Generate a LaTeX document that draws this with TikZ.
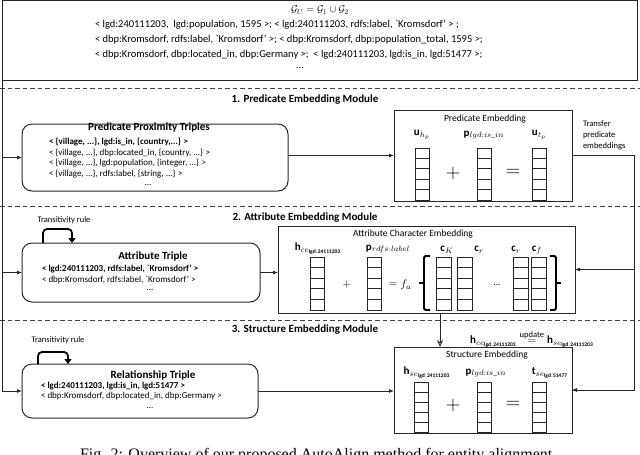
\documentclass[tikz,border=0pt]{standalone}
\usepackage{fix-cm}
\usepackage{amsmath}
\usepackage{fontspec}
\setmainfont{Carlito}
\newfontfamily\capfont{Liberation Serif}
\usetikzlibrary{arrows.meta,calc}
\newcommand\vcol[4]{\foreach \i in {0,...,4}{\draw[cellst] (#1,#2+\i*#4) rectangle ++(#3,#4);}}
\begin{document}
\begin{tikzpicture}[x=1pt,y=-1pt,
  every node/.style={inner sep=0pt, outer sep=0pt},
  ln/.style={line width=0.8pt, draw=black!85},
  arr/.style={ln, -{Latex[length=5pt,width=4pt]}},
  dline/.style={line width=0.8pt, draw=black!75, dash pattern=on 4.5pt off 3pt},
  tribox/.style={draw=black!85, line width=1pt, rounded corners=10pt},
  embbox/.style={draw=black!85, line width=1pt},
  cellst/.style={draw=black!85, line width=0.8pt},
  hdr/.style={font=\fontsize{11}{12}\selectfont\bfseries},
  ttl/.style={font=\fontsize{11}{12}\selectfont\bfseries},
  trip/.style={font=\fontsize{9}{10.6}\selectfont, anchor=north west, align=left},
  etitle/.style={font=\fontsize{9.5}{11}\selectfont},
  lbl/.style={font=\fontsize{11}{12}\selectfont},
  bigop/.style={font=\fontsize{20}{20}\selectfont},
  loopar/.style={line width=1.8pt, rounded corners=4pt, -{Triangle[length=5pt,width=7pt]}},
  smalltxt/.style={font=\fontsize{8.5}{11}\selectfont}
]
\useasboundingbox (0,0) rectangle (640,455);

% ---------- top box ----------
\node[ln, draw, minimum width=635pt, minimum height=80pt, anchor=north west] (top) at (2,0.5) {};
\node[font=\fontsize{10}{12}\selectfont] (gu) at (320,10) {$\mathcal{G}_U = \mathcal{G}_1 \cup \mathcal{G}_2$};
\node[anchor=north west, align=left, font=\fontsize{10.5}{15}\selectfont] (facts) at (95,20)
 {< lgd:240111203,\ \ lgd:population, 1595 >; < lgd:240111203, rdfs:label, \textasciigrave Kromsdorf’ > ;\\
  < dbp:Kromsdorf, rdfs:label, \textasciigrave Kromsdorf’ >; < dbp:Kromsdorf, dbp:population\_total, 1595 >;\\
  < dbp:Kromsdorf, dbp:located\_in, dbp:Germany >;\ \ < lgd:240111203, lgd:is\_in, lgd:51477 >;};
\node[font=\fontsize{10}{12}\selectfont] (fdots) at (300,68) {...};

% ---------- dashed separators ----------
\draw[dline] (0,88) -- (640,88);
\draw[dline] (0,206) -- (640,206);
\draw[dline] (0,320) -- (640,320);

% ---------- headers ----------
\node[hdr] (h1) at (305,100) {1. Predicate Embedding Module};
\node[hdr] (h2) at (305,218) {2. Attribute Embedding Module};
\node[hdr] (h3) at (305,330) {3. Structure Embedding Module};

% ---------- module 1 ----------
\node[tribox, minimum width=266pt, minimum height=67pt] (pp) at (155,157.5) {};
\node[ttl] (ppt) at (149,128) {Predicate Proximity Triples};
\node[trip] (ppl) at (49,138)
 {\textbf{< \{village, ...\}, lgd:is\_in, \{country,...\} >}\\
  < \{village, ...\}, dbp:located\_in, \{country, ...\} >\\
  < \{village, ...\}, lgd:population, \{integer, ...\} >\\
  < \{village, ...\}, rdfs:label, \{string, ...\} >};
\node[font=\fontsize{9}{10}\selectfont] (ppd) at (148,185) {...};

\node[embbox, minimum width=178pt, minimum height=91pt] (pe) at (483,155.5) {};
\node[etitle] (pet) at (485,119) {Predicate Embedding};
\node[lbl] (pel1) at (422,135) {$\mathbf{u}_{h_p}$};
\node[lbl] (pel2) at (484,135) {$\mathbf{p}_{lgd{:}is\_in}$};
\node[lbl] (pel3) at (539,135) {$\mathbf{u}_{t_p}$};
\vcol{415}{148}{14}{10.4}
\vcol{477}{148}{14}{10.4}
\vcol{532}{148}{14}{10.4}
\node[bigop] (pep) at (453,173) {$+$};
\node[bigop] (peq) at (513,173) {$=$};
\node[smalltxt, anchor=north west, align=left] (tr) at (583,121) {Transfer\\predicate\\embeddings};

% ---------- module 2 ----------
\node[tribox, minimum width=238pt, minimum height=59pt] (at) at (141,272.5) {};
\node[ttl] (att) at (153,257) {Attribute Triple};
\node[trip] (atl) at (42,265)
 {\textbf{< lgd:240111203, rdfs:label, \textasciigrave Kromsdorf’ >}\\
  < dbp:Kromsdorf, rdfs:label, \textasciigrave Kromsdorf’ >};
\node[font=\fontsize{9}{10}\selectfont] (atd) at (150,290) {...};
\node[smalltxt] (tr1) at (64,220) {Transitivity rule};

\node[embbox, minimum width=297pt, minimum height=87pt] (ace) at (426.5,269.5) {};
\node[etitle] (acet) at (413,234) {Attribute Character Embedding};
\node[lbl] (acel1) at (318,249) {$\mathbf{h}_{ce_{\mathbf{lgd}{:}\mathbf{24111203}}}$};
\node[lbl] (acel2) at (388,249) {$\mathbf{p}_{rdfs{:}label}$};
\node[lbl] (acel3) at (447,250) {$\mathbf{c}_K$};
\node[lbl] (acel4) at (479,250) {$\mathbf{c}_r$};
\node[lbl] (acel5) at (516,250) {$\mathbf{c}_r$};
\node[lbl] (acel6) at (537,250) {$\mathbf{c}_f$};
\vcol{310}{257}{14}{10.6}
\vcol{367}{257}{14}{10.6}
\vcol{436}{257}{15}{10.6}
\vcol{457}{257}{15}{10.6}
\vcol{513}{257}{15}{10.6}
\vcol{531}{257}{15}{10.6}
\node[font=\fontsize{11}{12}\selectfont] (acep) at (347,285) {$+$};
\node[font=\fontsize{11}{12}\selectfont] (aceq) at (393,284) {$=$};
\node[font=\fontsize{11}{12}\selectfont] (acef) at (406,285) {$f_a$};
\node[font=\fontsize{9}{10}\selectfont] (aced) at (497,285) {...};
\draw[line width=1.8pt, rounded corners=1.5pt] (430,256) -- (424,256) -- (424,310) -- (430,310);
\draw[line width=1.2pt] (424,283) -- (419,283);
\draw[line width=1.8pt, rounded corners=1.5pt] (550,256) -- (556,256) -- (556,310) -- (550,310);
\draw[line width=1.2pt] (556,283) -- (561,283);

% ---------- module 3 ----------
\node[tribox, minimum width=236pt, minimum height=54pt] (rt) at (140,391) {};
\node[ttl] (rtt) at (153,375) {Relationship Triple};
\node[trip] (rtl) at (41,382)
 {\textbf{< lgd:240111203, lgd:is\_in, lgd:51477 >}\\
  < dbp:Kromsdorf, dbp:located\_in, dbp:Germany >};
\node[font=\fontsize{9}{10}\selectfont] (rtd) at (150,408) {...};
\node[smalltxt] (tr2) at (58,340) {Transitivity rule};

\node[embbox, minimum width=178pt, minimum height=86pt] (se) at (483,390) {};
\node[etitle] (set) at (487,355) {Structure Embedding};
\node[lbl] (sel1) at (427,373) {$\mathbf{h}_{se_{\mathbf{lgd}{:}\mathbf{24111203}}}$};
\node[lbl] (sel2) at (486,373) {$\mathbf{p}_{lgd{:}is\_in}$};
\node[lbl] (sel3) at (550,373) {$\mathbf{t}_{se_{\mathbf{lgd}{:}\mathbf{51477}}}$};
\vcol{414}{382}{14}{10}
\vcol{477}{382}{14}{10}
\vcol{532}{382}{14}{10}
\node[bigop] (sep) at (453,405) {$+$};
\node[bigop] (seq) at (513,405) {$=$};

\node[lbl] (upd) at (532,339) {$\mathbf{h}_{ce_{\mathbf{lgd}{:}\mathbf{24111203}}} \overset{\text{\fontsize{8.5}{9}\selectfont update}}{=} \mathbf{h}_{se_{\mathbf{lgd}{:}\mathbf{24111203}}}$};

% ---------- connectors ----------
\coordinate (lc) at (top.south west);
\coordinate (rc) at (634,0);
\coordinate (dn) at (440,0);
\draw[arr] (lc) |- (pp.west);
\draw[arr] (lc) |- (at.west);
\draw[arr] (lc) |- (rt.west);
\draw[arr] (pp.east |- pe.west) -- (pe.west);
\draw[arr] (at.east) -- (ace.west |- at.east);
\draw[arr] (rt.east) -- (se.west |- rt.east);
\draw[ln] (pe.east) -- (pe.east -| rc) |- (se.east);
\draw[arr] (pe.east -| rc) |- (se.east);
\draw[arr] (pe.east -| rc) |- (ace.east);
\draw[ln, -{Stealth[length=7pt,width=6pt,open]}] (ace.south -| dn) -- (se.north -| dn);
\draw[loopar] ($(at.north west)+(21,0)$) -- ++(0,-14) -| ($(at.north west)+(50,0)$);
\draw[loopar] ($(rt.north west)+(16,0)$) -- ++(0,-12) -| ($(rt.north west)+(46,0)$);

% ---------- caption ----------
\node[anchor=base west, font=\capfont\fontsize{16}{18}\selectfont] (cap) at (80,459) {Fig. 2: Overview of our proposed AutoAlign method for entity alignment.};
\end{tikzpicture}
\end{document}
